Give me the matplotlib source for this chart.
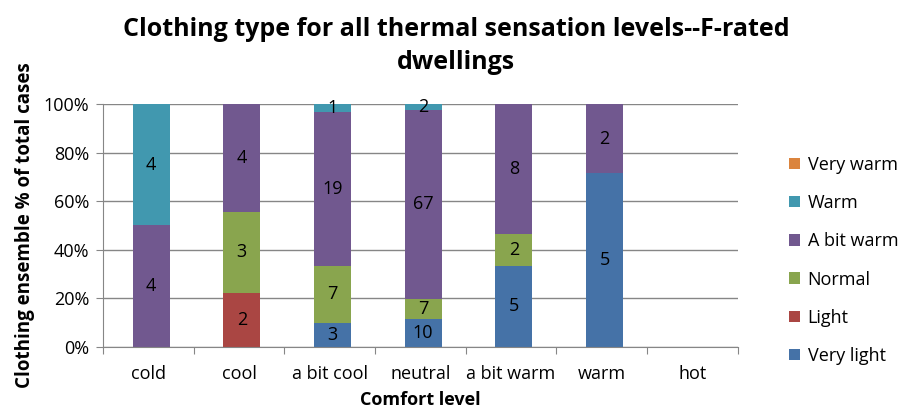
import matplotlib.pyplot as plt
import numpy as np

plt.rcParams['font.family'] = ['Open Sans', 'DejaVu Sans']

levels = ["cold", "cool", "a bit cool", "neutral", "a bit warm", "warm", "hot"]
clothing = ["Very light", "Light", "Normal", "A bit warm", "Warm", "Very warm"]

very_light = [0, 0, 3, 10, 5, 5, 0]
light = [0, 2, 0, 0, 0, 0, 0]
normal = [0, 3, 7, 7, 2, 0, 0]
a_bit_warm = [4, 4, 19, 67, 8, 2, 0]
warm = [4, 0, 1, 2, 0, 0, 0]
very_warm = [0, 0, 0, 0, 0, 0, 0]

colours = ["#4572A7", "#AA4643", "#89A54E", "#71588F", "#4198AF", "#DB843D"]

counts = np.array([very_light, light, normal, a_bit_warm, warm, very_warm], dtype=float)
totals = counts.sum(axis=0)
pct = np.divide(counts, totals, out=np.zeros_like(counts), where=totals > 0) * 100

fig = plt.figure(figsize=(9.12, 4.16), dpi=100)
ax = fig.add_axes([0.113, 0.166, 0.696, 0.584])

x = np.arange(len(levels))
bottom = np.zeros(len(levels))
for i, name in enumerate(clothing):
    ax.bar(x + 0.03, pct[i], 0.41, bottom=bottom, color=colours[i], label=name, zorder=2)
    for j in range(len(levels)):
        if counts[i, j] > 0:
            ax.text(x[j] + 0.03, bottom[j] + pct[i, j] / 2, f"{int(counts[i, j])}",
                    ha="center", va="center", fontsize=13, color="black", zorder=3)
    bottom += pct[i]

ax.set_xlim(-0.5, len(levels) - 0.5)
ax.set_ylim(0, 100)
ax.set_yticks(np.arange(0, 101, 20))
ax.set_yticklabels([f"{v}%" for v in range(0, 101, 20)], fontsize=13)
ax.yaxis.grid(True, color="#868686", linewidth=1, zorder=0)
ax.set_axisbelow(True)

ax.set_xticks(np.arange(-0.5, len(levels), 1))
ax.set_xticklabels([])
ax.set_xticks(x, minor=True)
ax.set_xticklabels(levels, minor=True, fontsize=13)
ax.tick_params(axis="x", which="minor", length=0, pad=13)
ax.tick_params(axis="x", which="major", length=5, color="#868686")
ax.tick_params(axis="y", length=5, color="#868686", pad=5)

for s in ["top", "right"]:
    ax.spines[s].set_visible(False)
for s in ["left", "bottom"]:
    ax.spines[s].set_color("#868686")

ax.set_xlabel("Comfort level", fontsize=13, fontweight="bold", labelpad=6)
ax.set_ylabel("Clothing ensemble % of total cases", fontsize=13.5, fontweight="bold", labelpad=6)

fig.suptitle("Clothing type for all thermal sensation levels--F-rated\ndwellings",
             fontsize=18, fontweight="bold", y=0.96, x=0.5, linespacing=1.45)

handles, labels = ax.get_legend_handles_labels()
ax.legend(handles[::-1], labels[::-1], loc="center left", bbox_to_anchor=(1.07, 0.356),
          frameon=False, fontsize=13, handlelength=0.6, handleheight=0.6,
          handletextpad=0.4, labelspacing=1.12, borderaxespad=0)

plt.savefig("out.png", dpi=100)
